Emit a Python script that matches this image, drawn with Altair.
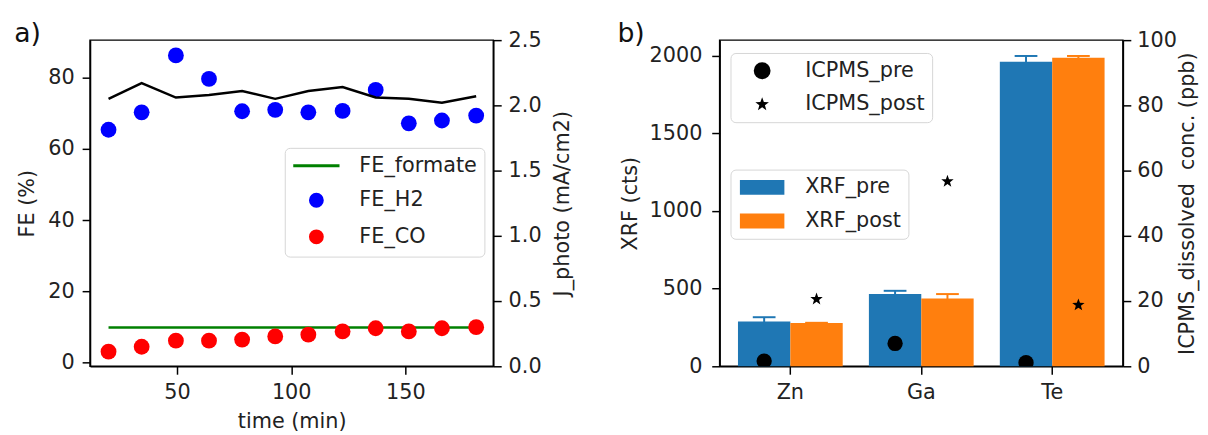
import math
import altair as alt
import pandas as pd

FONT = "DejaVu Sans"

# ---------------- data: panel a ----------------
time_min = [20, 34.5, 49.5, 64, 78.5, 93, 107.5, 122.5, 137, 151.5, 166, 181]
fe_h2 = [65.4, 70.3, 86.3, 79.7, 70.6, 71.0, 70.3, 70.7, 76.6, 67.2, 68.0, 69.4]
fe_co = [3.0, 4.4, 6.1, 6.1, 6.4, 7.3, 7.8, 8.7, 9.6, 8.7, 9.6, 9.9]
fe_formate = [9.8, 9.8, 9.8, 9.8, 9.8, 9.8, 9.8, 9.8, 9.8, 9.8, 9.8, 9.8]
j_photo = [2.05, 2.17, 2.06, 2.08, 2.11, 2.05, 2.11, 2.14, 2.06, 2.05, 2.02, 2.07]
series_names = ["FE_formate", "FE_H2", "FE_CO"]
series_colors = ["#008000", "#0000ff", "#ff0000"]

# ---------------- data: panel b ----------------
elements = ["Zn", "Ga", "Te"]
xrf_pre = [288, 465, 1960]
xrf_pre_err = [28, 21, 38]
xrf_post = [278, 437, 1987]
xrf_post_err = [2, 28, 11]
icpms_pre = [1.6, 7.0, 1.1]
icpms_post = [20.6, 56.7, 18.8]
xrf_names = ["XRF_pre", "XRF_post"]
icp_names = ["ICPMS_pre", "ICPMS_post"]
BLUE, ORANGE = "#1f77b4", "#ff7f0e"

# symbol shapes (unit box)
pts = []
for k in range(10):
    ang = math.radians(-90 + 36 * k)
    r = 0.85 if k % 2 == 0 else 0.35
    pts.append(f"{r * math.cos(ang):.3f},{r * math.sin(ang):.3f}")
STAR = "M" + "L".join(pts) + "Z"
LINE_PATH = "M-3.9,0H3.9"
RECT_PATH = "M-3,-1H3V1H-3Z"

df_fe = pd.DataFrame({
    "time": time_min + time_min,
    "value": fe_h2 + fe_co,
    "series": ["FE_H2"] * len(time_min) + ["FE_CO"] * len(time_min),
})
df_line = pd.DataFrame({"time": time_min, "formate": fe_formate, "j": j_photo})

df_bar = pd.DataFrame({
    "element": elements + elements,
    "when": ["pre"] * 3 + ["post"] * 3,
    "label": ["XRF_pre"] * 3 + ["XRF_post"] * 3,
    "xrf": xrf_pre + xrf_post,
    "err": xrf_pre_err + xrf_post_err,
})
df_icp = pd.DataFrame({
    "element": elements + elements,
    "when": ["pre"] * 3 + ["post"] * 3,
    "label": ["ICPMS_pre"] * 3 + ["ICPMS_post"] * 3,
    "icp": icpms_pre + icpms_post,
})

leg_common = dict(
    title=None, orient="none", padding=7.5, symbolOffset=14, labelOffset=33,
    rowPadding=12, labelFont=FONT, labelFontSize=21, labelColor="#222222",
    strokeColor="#d6d6d6", fillColor="white", cornerRadius=5, labelLimit=400,
)

# ---------------- panel a ----------------
x_left = alt.X("time:Q",
               scale=alt.Scale(domain=[11.9, 188.5], nice=False, zero=False),
               axis=alt.Axis(values=[50, 100, 150], title="time (min)",
                             labelFlush=False, labelPadding=8, titlePadding=8))
y_fe_scale = alt.Scale(domain=[-1.1, 90.6], nice=False, zero=False)
y_fe_axis = alt.Axis(values=[0, 20, 40, 60, 80], title="FE (%)",
                     labelPadding=8, titlePadding=10)

leg_left = alt.Legend(legendX=197, legendY=109, symbolSize=144,
                      symbolStrokeWidth=3, **leg_common)

formate_line = alt.Chart(df_line).mark_line(color="#008000", strokeWidth=2.5).encode(
    x=x_left, y=alt.Y("formate:Q", scale=y_fe_scale, axis=y_fe_axis))

fe_points = alt.Chart(df_fe).mark_point(filled=True, size=256, opacity=1, strokeWidth=0).encode(
    x=x_left,
    y=alt.Y("value:Q", scale=y_fe_scale, axis=y_fe_axis),
    fill=alt.Fill("series:N", scale=alt.Scale(domain=series_names, range=series_colors), legend=leg_left),
    stroke=alt.Stroke("series:N", scale=alt.Scale(domain=series_names, range=series_colors), legend=leg_left),
    shape=alt.Shape("series:N", scale=alt.Scale(domain=series_names, range=[LINE_PATH, "circle", "circle"]), legend=leg_left),
)

j_line = alt.Chart(df_line).mark_line(color="black", strokeWidth=2.5).encode(
    x=x_left,
    y=alt.Y("j:Q", scale=alt.Scale(domain=[0, 2.5], nice=False),
            axis=alt.Axis(orient="right", values=[0, 0.5, 1, 1.5, 2, 2.5], format=".1f",
                          title="J_photo (mA/cm2)", titleAngle=270, titleBaseline="top",
                          labelPadding=7, titlePadding=11)),
)

left = alt.layer(alt.layer(formate_line, fe_points), j_line).resolve_scale(
    y="independent").properties(
    width=408, height=330,
    title=alt.TitleParams("a)", anchor="start", frame="bounds", dx=-3, dy=3))

# ---------------- panel b ----------------
x_r = alt.X("element:N", sort=elements,
            scale=alt.Scale(paddingInner=0.2, paddingOuter=0.14),
            axis=alt.Axis(title=None, labelAngle=0, labelPadding=8))
xo = alt.XOffset("when:N", sort=["pre", "post"],
                 scale=alt.Scale(domain=["pre", "post"], paddingInner=0, paddingOuter=0))
y_x_scale = alt.Scale(domain=[0, 2100], nice=False)
y_x_axis = alt.Axis(values=[0, 500, 1000, 1500, 2000], format="d", title="XRF (cts)",
                    labelPadding=10, titlePadding=9)
when_color = alt.Color("when:N", scale=alt.Scale(domain=["pre", "post"], range=[BLUE, ORANGE]), legend=None)

leg_xrf = alt.Legend(legendX=11, legendY=131, symbolSize=225, symbolStrokeWidth=0,
                     symbolType=RECT_PATH, **leg_common)
leg_icp = alt.Legend(legendX=11, legendY=13, symbolSize=289, symbolStrokeWidth=0,
                     symbolFillColor="black", **leg_common)

bars = alt.Chart(df_bar).mark_bar(opacity=1).encode(
    x=x_r, xOffset=xo,
    y=alt.Y("xrf:Q", scale=y_x_scale, axis=y_x_axis),
    fill=alt.Fill("label:N", sort=xrf_names,
                  scale=alt.Scale(domain=xrf_names, range=[BLUE, ORANGE]), legend=leg_xrf),
)
errs = alt.Chart(df_bar).transform_calculate(
    lo="datum.xrf - datum.err", hi="datum.xrf + datum.err").mark_rule(strokeWidth=2).encode(
    x=x_r, xOffset=xo,
    y=alt.Y("lo:Q", scale=y_x_scale, axis=y_x_axis), y2="hi:Q", color=when_color)
caps = alt.Chart(df_bar).transform_calculate(
    hi="datum.xrf + datum.err").mark_tick(size=23, thickness=2, opacity=1).encode(
    x=x_r, xOffset=xo,
    y=alt.Y("hi:Q", scale=y_x_scale, axis=y_x_axis), color=when_color)

icp_points = alt.Chart(df_icp).mark_point(filled=True, size=240, opacity=1, color="black",
                                          strokeWidth=0, clip=True).encode(
    x=x_r, xOffset=xo,
    y=alt.Y("icp:Q", scale=alt.Scale(domain=[0, 100], nice=False),
            axis=alt.Axis(orient="right", values=[0, 20, 40, 60, 80, 100],
                          title="ICPMS_dissolved\u00a0 conc. (ppb)", titleAngle=270,
                          titleBaseline="top", labelPadding=6, titlePadding=0)),
    shape=alt.Shape("label:N", sort=icp_names,
                    scale=alt.Scale(domain=icp_names, range=["circle", STAR]), legend=leg_icp),
)

right = alt.layer(alt.layer(bars, errs, caps), icp_points).resolve_scale(
    y="independent").properties(
    width=408, height=330,
    title=alt.TitleParams("b)", anchor="start", frame="bounds", dx=-2, dy=3))

chart = alt.hconcat(left, right, spacing=42).resolve_scale(
    fill="independent", stroke="independent", shape="independent", color="independent"
).configure(
    padding={"left": 5, "top": 9, "right": 2, "bottom": 0}, font=FONT
).configure_view(
    stroke="black", strokeWidth=1.5
).configure_axis(
    domainColor="black", domainWidth=1.5, tickColor="black", tickWidth=1.5, tickSize=8,
    labelFont=FONT, labelFontSize=21, labelColor="#222222",
    titleFont=FONT, titleFontSize=21, titleFontWeight="normal", titleColor="#222222",
    grid=False,
).configure_title(
    font=FONT, fontSize=27, fontWeight="normal", color="#111111", offset=-16
)

chart.save("out.html", embed_options={"renderer": "svg", "actions": False})
